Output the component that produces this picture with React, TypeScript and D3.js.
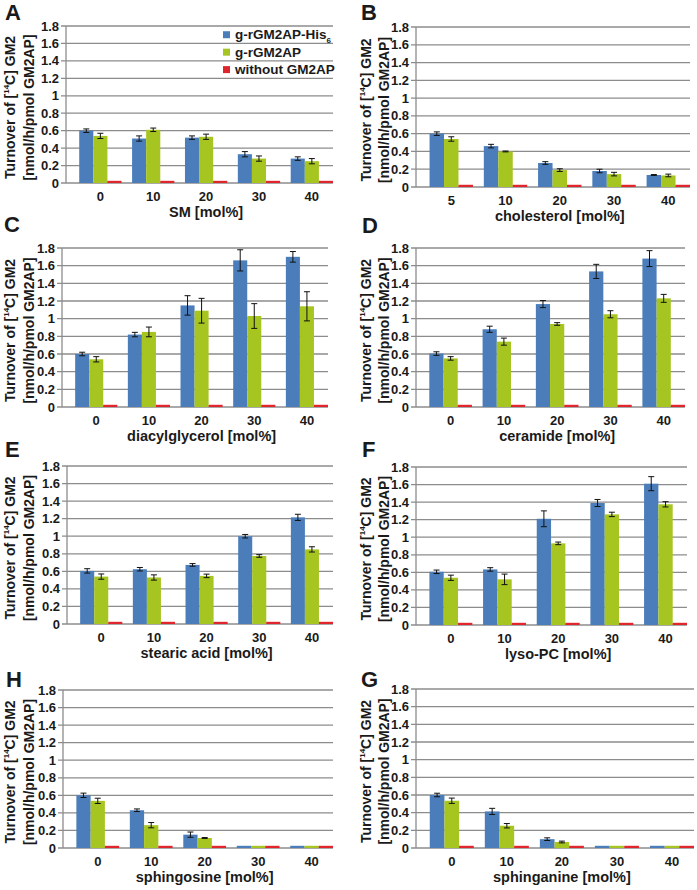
import React from "react";
import * as d3 from "d3";

const W = 697, H = 890;
const FONT = "'Liberation Sans', Arial, Helvetica, sans-serif";

// categories
const mol = ["0", "10", "20", "30", "40"];
const cholMol = ["5", "10", "20", "30", "40"];

// series
const seriesNames = ["g-rGM2AP-His", "g-rGM2AP", "without GM2AP"];
const seriesColors = ["#4a7dba", "#a6c521", "#e1252c"];
const yTicks = [0, 0.2, 0.4, 0.6, 0.8, 1, 1.2, 1.4, 1.6, 1.8];

// control without activator protein (same in every panel)
const withoutGM2AP = [0.025, 0.025, 0.025, 0.025, 0.025];

// A: SM
const smHis = [0.60, 0.51, 0.52, 0.33, 0.28];
const smHisErr = [0.02, 0.03, 0.02, 0.03, 0.02];
const smAP = [0.54, 0.61, 0.53, 0.28, 0.25];
const smAPErr = [0.03, 0.02, 0.03, 0.03, 0.03];

// B: cholesterol
const cholHis = [0.60, 0.46, 0.27, 0.18, 0.135];
const cholHisErr = [0.02, 0.02, 0.015, 0.02, 0.005];
const cholAP = [0.54, 0.40, 0.19, 0.145, 0.13];
const cholAPErr = [0.025, 0.005, 0.015, 0.02, 0.015];

// C: diacylglycerol
const dagHis = [0.60, 0.82, 1.15, 1.66, 1.70];
const dagHisErr = [0.02, 0.025, 0.11, 0.12, 0.06];
const dagAP = [0.54, 0.85, 1.09, 1.03, 1.14];
const dagAPErr = [0.03, 0.055, 0.14, 0.14, 0.165];

// D: ceramide
const cerHis = [0.605, 0.88, 1.165, 1.535, 1.68];
const cerHisErr = [0.02, 0.035, 0.04, 0.08, 0.09];
const cerAP = [0.55, 0.74, 0.94, 1.05, 1.23];
const cerAPErr = [0.02, 0.04, 0.015, 0.04, 0.045];

// E: stearic acid
const saHis = [0.605, 0.624, 0.673, 1.0, 1.215];
const saHisErr = [0.025, 0.02, 0.015, 0.02, 0.035];
const saAP = [0.54, 0.53, 0.548, 0.775, 0.85];
const saAPErr = [0.03, 0.03, 0.02, 0.015, 0.03];

// F: lyso-PC
const lpcHis = [0.606, 0.633, 1.21, 1.39, 1.61];
const lpcHisErr = [0.02, 0.02, 0.09, 0.04, 0.08];
const lpcAP = [0.538, 0.52, 0.93, 1.26, 1.375];
const lpcAPErr = [0.03, 0.06, 0.015, 0.025, 0.03];

// H: sphingosine
const sphoHis = [0.60, 0.43, 0.152, 0.025, 0.025];
const sphoHisErr = [0.025, 0.015, 0.03, 0, 0];
const sphoAP = [0.537, 0.26, 0.114, 0.025, 0.025];
const sphoAPErr = [0.03, 0.03, 0.005, 0, 0];

// G: sphinganine
const sphaHis = [0.60, 0.414, 0.10, 0.025, 0.025];
const sphaHisErr = [0.02, 0.035, 0.015, 0, 0];
const sphaAP = [0.535, 0.252, 0.068, 0.025, 0.025];
const sphaAPErr = [0.03, 0.025, 0.01, 0, 0];

const panels = [
  { letter: "A", xTitle: "SM [mol%]", cats: mol, his: smHis, hisErr: smHisErr, ap: smAP, apErr: smAPErr, legend: true },
  { letter: "B", xTitle: "cholesterol [mol%]", cats: cholMol, his: cholHis, hisErr: cholHisErr, ap: cholAP, apErr: cholAPErr },
  { letter: "C", xTitle: "diacylglycerol [mol%]", cats: mol, his: dagHis, hisErr: dagHisErr, ap: dagAP, apErr: dagAPErr },
  { letter: "D", xTitle: "ceramide [mol%]", cats: mol, his: cerHis, hisErr: cerHisErr, ap: cerAP, apErr: cerAPErr },
  { letter: "E", xTitle: "stearic acid [mol%]", cats: mol, his: saHis, hisErr: saHisErr, ap: saAP, apErr: saAPErr },
  { letter: "F", xTitle: "lyso-PC [mol%]", cats: mol, his: lpcHis, hisErr: lpcHisErr, ap: lpcAP, apErr: lpcAPErr },
  { letter: "H", xTitle: "sphingosine [mol%]", cats: mol, his: sphoHis, hisErr: sphoHisErr, ap: sphoAP, apErr: sphoAPErr },
  { letter: "G", xTitle: "sphinganine [mol%]", cats: mol, his: sphaHis, hisErr: sphaHisErr, ap: sphaAP, apErr: sphaAPErr },
];

// plot boxes (pixels)
const boxes = [
  { left: 66, right: 333, top: 26, bottom: 183, lx: 5, ly: 20, tx: 15, gap: 19 },
  { left: 416, right: 690, top: 27, bottom: 187, lx: 361, ly: 20, tx: 371, gap: 18 },
  { left: 62, right: 328, top: 248, bottom: 407, lx: 4, ly: 232, tx: 15, gap: 19 },
  { left: 416, right: 685, top: 248, bottom: 407, lx: 362, ly: 233, tx: 371, gap: 18 },
  { left: 67, right: 333, top: 466, bottom: 624, lx: 5, ly: 457, tx: 15, gap: 19 },
  { left: 416, right: 687, top: 467, bottom: 625, lx: 362, ly: 457, tx: 371, gap: 18 },
  { left: 63, right: 333, top: 690, bottom: 848, lx: 6, ly: 687, tx: 15, gap: 19 },
  { left: 416, right: 694, top: 689, bottom: 848, lx: 361, ly: 687, tx: 371, gap: 18 },
];

const Panel = ({ p, b }) => {
  const y = d3.scaleLinear().domain([0, 1.8]).range([b.bottom, b.top]);
  const step = (b.right - b.left) / 5.05;
  const x = d3.scaleBand().domain(p.cats).range([b.left + 0.25 * step, b.right]).paddingInner(0.2);
  const sub = d3.scaleBand().domain(["0", "1", "2"]).range([0, x.bandwidth()]);
  const values = [p.his, p.ap, withoutGM2AP];
  const errs = [p.hisErr, p.apErr, null];
  const fmt = (d) => String(+d.toFixed(1));
  const midY = (b.top + b.bottom) / 2 + 3;

  return (
    <g>
      <text x={b.lx} y={b.ly} fontSize={22} fontWeight="bold">{p.letter}</text>
      {yTicks.map((t) => (
        <g key={t}>
          <line x1={b.left - 5} x2={b.right} y1={y(t)} y2={y(t)} stroke="#8c8c8c" strokeWidth={1.3} />
          <text x={b.left - 7} y={y(t)} dy="0.35em" textAnchor="end" fontSize={13} fontWeight="bold">{fmt(t)}</text>
        </g>
      ))}
      {values.map((vals, s) =>
        p.cats.map((c, i) => (
          <rect key={s + "-" + c} x={x(c) + sub(String(s))} width={sub.bandwidth()}
            y={y(vals[i])} height={y(0) - y(vals[i])} fill={seriesColors[s]} />
        ))
      )}
      {errs.map((e, s) =>
        e ? p.cats.map((c, i) => {
          if (!e[i]) return null;
          const cx = x(c) + sub(String(s)) + sub.bandwidth() / 2;
          const y1 = y(values[s][i] + e[i]), y2 = y(values[s][i] - e[i]);
          return (
            <g key={"e" + s + c} stroke="#111" strokeWidth={1}>
              <line x1={cx} x2={cx} y1={y1} y2={y2} />
              <line x1={cx - 3} x2={cx + 3} y1={y1} y2={y1} />
              <line x1={cx - 3} x2={cx + 3} y1={y2} y2={y2} />
            </g>
          );
        }) : null
      )}
      <line x1={b.left} x2={b.left} y1={b.top} y2={b.bottom} stroke="#8c8c8c" strokeWidth={1.3} />
      {p.cats.map((c) => (
        <text key={"l" + c} x={x(c) + sub("1") + sub.bandwidth() / 2} y={b.bottom + 18}
          textAnchor="middle" fontSize={13} fontWeight="bold">{c}</text>
      ))}
      <text x={x(p.cats[2]) + sub("1") + sub.bandwidth() / 2} y={b.bottom + 34} textAnchor="middle"
        fontSize={14.5} fontWeight="bold">{p.xTitle}</text>
      <text transform={`translate(${b.tx},${midY}) rotate(-90)`} textAnchor="middle" fontSize={14} fontWeight="bold">
        Turnover of [<tspan fontSize={8} dy={-6}>14</tspan><tspan dy={6}>C] GM2</tspan>
      </text>
      <text transform={`translate(${b.tx + b.gap},${midY}) rotate(-90)`} textAnchor="middle" fontSize={14} fontWeight="bold">
        [nmol/h/pmol GM2AP]
      </text>
      {p.legend ? seriesNames.map((n, s) => {
        const ly = (y(1.8 - 0.2 * s) + y(1.6 - 0.2 * s)) / 2;
        return (
          <g key={"lg" + s}>
            <rect x={223} y={ly - 3.5} width={7} height={7} fill={seriesColors[s]} />
            <text x={235} y={ly} dy="0.35em" fontSize={13.5} fontWeight="bold">
              {n}{s === 0 ? <tspan fontSize={8} dy={4}>6</tspan> : null}
            </text>
          </g>
        );
      }) : null}
    </g>
  );
};

export default function App() {
  return (
    <svg width={W} height={H} style={{ position: "absolute", left: 0, top: 0, background: "#fff" }}
      fontFamily={FONT} fill="#1a1a1a">
      <rect width={W} height={H} fill="#fff" />
      {panels.map((p, i) => <Panel key={p.letter} p={p} b={boxes[i]} />)}
    </svg>
  );
}
